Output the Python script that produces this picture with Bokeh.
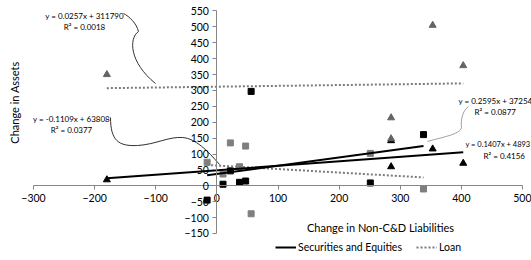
import numpy as np
from bokeh.plotting import figure
from bokeh.models import (LinearAxis, Range1d, Label, Legend, LegendItem,
                          FixedTicker)
from bokeh.embed import file_html
from bokeh.resources import INLINE

# ---------------- data ----------------
sec1_x = [-16, 10, 22, 37, 47, 56, 251, 338]
sec1_y = [-45, 5, 47, 11, 15, 297, 9, 161]
loan1_x = [-16, 10, 22, 37, 47, 56, 251, 338]
loan1_y = [74, 37, 135, 60, 125, -88, 102, -10]
sec2_x = [-180, 285, 285, 353, 403]
sec2_y = [19, 60, 142, 116, 71]
loan2_x = [-180, 285, 285, 353, 403]
loan2_y = [350, 214, 148, 505, 378]

# trendline equations printed on the chart (intercepts in thousands)
trend_slope = {"sec1": 0.2595, "sec2": 0.1407, "loan1": -0.1109, "loan2": 0.0257}
trend_icpt = {"sec1": 37.254, "sec2": 48.93, "loan1": 63.808, "loan2": 311.790}
eq_text = {
    "loan2": ("y = 0.0257x + 311790", "R\u00b2 = 0.0018"),
    "loan1": ("y = -0.1109x + 63808", "R\u00b2 = 0.0377"),
    "sec1": ("y = 0.2595x + 37254", "R\u00b2 = 0.0877"),
    "sec2": ("y = 0.1407x + 4893", "R\u00b2 = 0.4156"),
}
x_ticks = list(range(-300, 501, 100))
y_ticks = list(range(-150, 551, 50))
x_title = "Change in Non-C&D Liabilities"
y_title = "Change in Assets"
legend_labels = ["Securities and Equities", "Loan"]

# ---------------- layout helpers (reference pixel -> data) ----------------
W, H = 531, 260
X0, SX = 216.4, 0.61125
Y0, SY = 185.3, 0.31786


def px2x(X):
    return (X - X0) / SX


def px2y(Y):
    return (Y0 - Y) / SY


FONT = "Lato"
p = figure(width=W, height=H,
           x_range=Range1d(px2x(0), px2x(W)),
           y_range=Range1d(px2y(H), px2y(0)),
           x_axis_type=None, y_axis_type=None,
           toolbar_location=None, output_backend="svg",
           min_border=0, outline_line_color=None,
           background_fill_color="white", border_fill_color="white")

AX_COL = "#868686"
xaxis = LinearAxis(fixed_location=0, bounds=(x_ticks[0], x_ticks[-1]),
                   ticker=FixedTicker(ticks=x_ticks))
yaxis = LinearAxis(fixed_location=0, bounds=(y_ticks[0], y_ticks[-1]),
                   ticker=FixedTicker(ticks=y_ticks))
for ax in (xaxis, yaxis):
    ax.axis_line_color = AX_COL
    ax.major_tick_line_color = AX_COL
    ax.minor_tick_line_color = None
    ax.major_tick_in = 0
    ax.major_tick_out = 4
    ax.major_label_text_font = FONT
    ax.major_label_text_font_size = "10.5px"
    ax.major_label_text_color = "#000000"
xaxis.major_label_standoff = 4
yaxis.major_label_standoff = 4
p.add_layout(xaxis, "below")
p.add_layout(yaxis, "left")

# markers
p.scatter(sec1_x, sec1_y, marker="square", size=6, color="#000000")
p.scatter(loan1_x, loan1_y, marker="square", size=6, color="#7f7f7f")
p.scatter(sec2_x, sec2_y, marker="triangle", size=7, color="#000000")
p.scatter(loan2_x, loan2_y, marker="triangle", size=7, color="#646464")

# trendlines
series_x = {"sec1": sec1_x, "sec2": sec2_x, "loan1": loan1_x, "loan2": loan2_x}
rend = {}
for key in ["loan1", "loan2", "sec1", "sec2"]:
    xs = np.array([min(series_x[key]), max(series_x[key])], dtype=float)
    ys = trend_slope[key] * xs + trend_icpt[key]
    if key.startswith("sec"):
        rend[key] = p.line(xs, ys, line_color="#000000", line_width=2)
    else:
        rend[key] = p.line(xs, ys, line_color="#7a7a7a", line_width=2,
                           line_dash="2 2")


# leader lines (reference pixel coordinates)
def bez(pts, color):
    (a, b), (c, d), (e, f), (g, h) = pts
    p.bezier(x0=[px2x(a)], y0=[px2y(b)], cx0=[px2x(c)], cy0=[px2y(d)],
             cx1=[px2x(e)], cy1=[px2y(f)], x1=[px2x(g)], y1=[px2y(h)],
             line_color=color, line_width=1)


bez([(123, 13), (129, 16), (136, 23), (138, 31)], "#303030")
bez([(138, 31), (128, 38), (129, 62), (155, 83)], "#303030")
bez([(110, 117), (110, 140), (118, 146), (137, 145)], "#303030")
bez([(137, 145), (155, 144), (168, 136), (182, 137)], "#303030")
bez([(182, 137), (195, 138), (207, 150), (219, 164)], "#303030")
bez([(468, 106), (462, 110), (460, 120), (461, 127)], "#a0a0a0")
bez([(461, 127), (460, 134), (440, 137), (427, 141)], "#a0a0a0")


def lab(text, X, Y, size, align="center", angle=0.0):
    p.add_layout(Label(x=px2x(X), y=px2y(Y), text=text, text_font=FONT,
                       text_font_size=size, text_align=align,
                       text_baseline="middle", angle=angle,
                       text_color="#000000"))


lab(eq_text["loan2"][0], 84, 15, "8px")
lab(eq_text["loan2"][1], 84, 26, "8px")
lab(eq_text["loan1"][0], 71, 118, "8px")
lab(eq_text["loan1"][1], 71, 129, "8px")
lab(eq_text["sec1"][0], 458, 100, "8px", "left")
lab(eq_text["sec1"][1], 474, 111, "8px", "left")
lab(eq_text["sec2"][0], 465, 144, "7.5px", "left")
lab(eq_text["sec2"][1], 483, 155, "8px", "left")

lab(x_title, 380, 227, "11px")
lab(y_title, 14, 102, "11px", angle=np.pi / 2)

legend = Legend(items=[LegendItem(label=legend_labels[0], renderers=[rend["sec1"]]),
                       LegendItem(label=legend_labels[1], renderers=[rend["loan1"]])],
                orientation="horizontal", location=(275, H - 253),
                glyph_width=21, glyph_height=12, label_height=12,
                label_standoff=2, spacing=14, padding=0, margin=0,
                border_line_color=None, background_fill_alpha=0,
                label_text_font=FONT, label_text_font_size="10.5px",
                label_text_color="#000000")
p.add_layout(legend)

open("out.html", "w").write(file_html(p, INLINE))
